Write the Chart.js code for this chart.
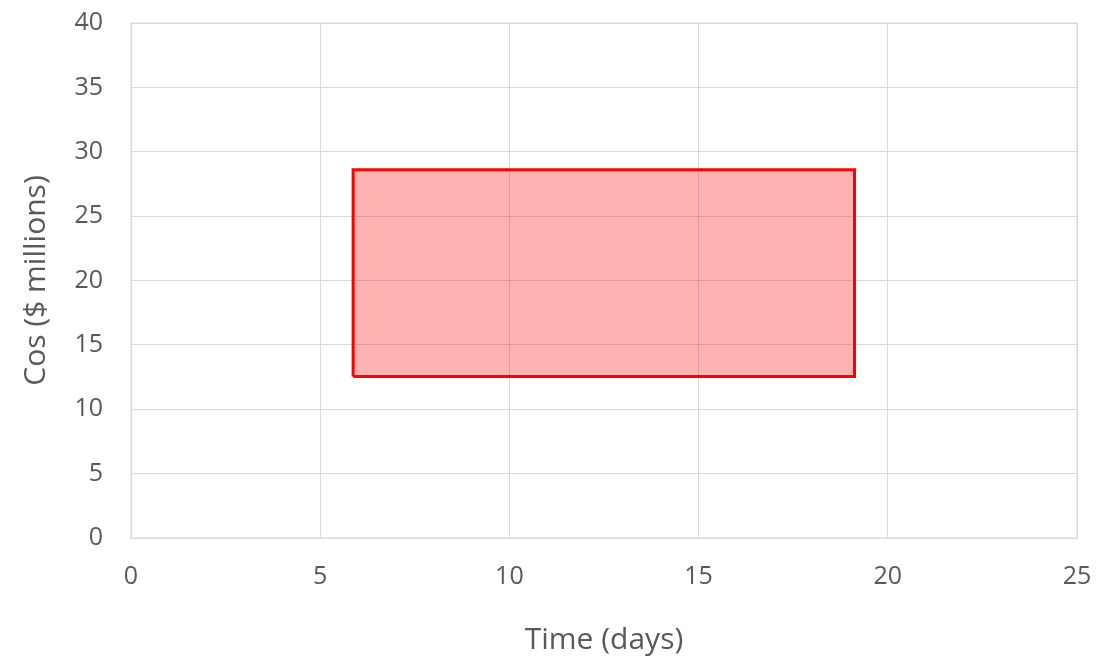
<!DOCTYPE html>
<html lang="en">
<head>
  <meta charset="UTF-8">
  <script src="https://cdn.jsdelivr.net/npm/chart.js"></script>
  <title>Cost vs time</title>
  <style>
    html, body { margin: 0; padding: 0; background: #fff; }
    #wrap { width: 1102px; height: 658px; }
  </style>
</head>
<body>
<div id="wrap"><canvas id="boxChart" width="1102" height="658"></canvas></div>

<script>
  // corners of the shaded box, walked round and closed
  const boxTime = [5.87, 5.87, 19.12, 19.12, 5.87];
  const boxCost = [12.55, 28.6, 28.6, 12.55, 12.55];

  const xTicks = [0, 5, 10, 15, 20, 25];
  const yTicks = [0, 5, 10, 15, 20, 25, 30, 35, 40];

  const points = boxTime.map((t, i) => ({ x: t, y: boxCost[i] }));

  const grey = '#595959';
  const gridGrey = '#d9d9d9';
  const fontName = "'Open Sans', 'Liberation Sans', sans-serif";

  const ctx = document.getElementById('boxChart');
  new Chart(ctx, {
    type: 'scatter',
    data: {
      datasets: [{
        data: points,
        showLine: true,
        fill: 'shape',
        borderColor: '#ff0000',
        borderWidth: 3,
        backgroundColor: 'rgba(255, 0, 0, 0.3)',
        pointRadius: 0,
        tension: 0
      }]
    },
    options: {
      responsive: false,
      animation: false,
      layout: { padding: { left: 0, right: 25, top: 23, bottom: 0 } },
      plugins: {
        legend: { display: false },
        tooltip: { enabled: false }
      },
      scales: {
        x: {
          type: 'linear',
          min: xTicks[0],
          max: xTicks[xTicks.length - 1],
          afterBuildTicks: (s) => { s.ticks = xTicks.map(v => ({ value: v })); },
          afterFit: (s) => { s.height = 120; s.paddingLeft = 0; s.paddingRight = 0; },
          grid: { color: gridGrey, lineWidth: 1, drawTicks: false },
          border: { color: gridGrey, width: 1 },
          ticks: { color: grey, font: { family: fontName, size: 25 }, padding: 24 },
          title: {
            display: true,
            text: 'Time (days)',
            color: grey,
            font: { family: fontName, size: 30 },
            padding: { top: 4, bottom: 0 }
          }
        },
        y: {
          type: 'linear',
          min: yTicks[0],
          max: yTicks[yTicks.length - 1],
          afterBuildTicks: (s) => { s.ticks = yTicks.map(v => ({ value: v })); },
          afterFit: (s) => { s.width = 131; s.paddingTop = 0; s.paddingBottom = 0; },
          grid: { color: gridGrey, lineWidth: 1, drawTicks: false },
          border: { color: gridGrey, width: 1 },
          ticks: { color: grey, font: { family: fontName, size: 25 }, padding: 28 },
          title: {
            display: true,
            text: 'Cos ($ millions)',
            color: grey,
            font: { family: fontName, size: 30 },
            padding: { top: 18, bottom: 4 }
          }
        }
      }
    },
    plugins: [{
      // close the plot box on the top and right
      id: 'frame',
      beforeDatasetsDraw(chart) {
        const a = chart.chartArea;
        const c = chart.ctx;
        c.save();
        c.strokeStyle = gridGrey;
        c.lineWidth = 1;
        c.strokeRect(a.left, a.top, a.right - a.left, a.bottom - a.top);
        c.restore();
      }
    }]
  });
</script>
</body>
</html>
